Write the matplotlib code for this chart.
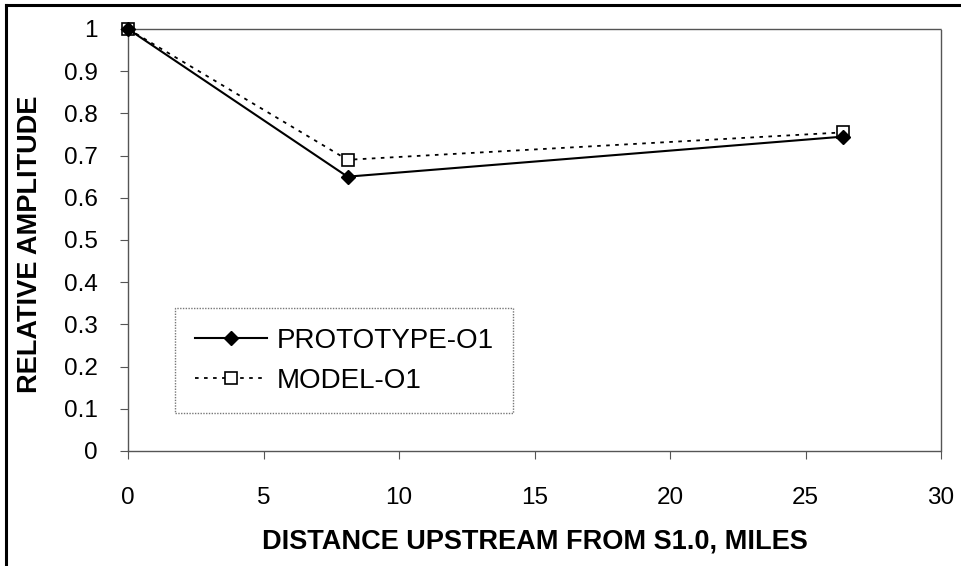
import matplotlib
matplotlib.use('Agg')
import matplotlib.pyplot as plt
from matplotlib.lines import Line2D

plt.rc('font', family=['Liberation Sans', 'DejaVu Sans'])

distance = [0, 8.1, 26.4]
prototype = [1.0, 0.65, 0.745]
model = [1.0, 0.69, 0.755]
xticks = [0, 5, 10, 15, 20, 25, 30]
yticks = [0, 0.1, 0.2, 0.3, 0.4, 0.5, 0.6, 0.7, 0.8, 0.9, 1]
ytick_labels = ['0', '0.1', '0.2', '0.3', '0.4', '0.5', '0.6', '0.7', '0.8', '0.9', '1']

fig = plt.figure(figsize=(9.61, 5.66), dpi=100)
ax = fig.add_axes([0.1332, 0.2032, 0.846, 0.7456])

ax.plot(distance, model, color='black', lw=1.3, ls=(0, (2, 3)),
        marker='s', ms=8.5, mfc='white', mec='black', mew=1.2,
        label='MODEL-O1', zorder=3, clip_on=False)
ax.plot(distance, prototype, color='black', lw=1.5, ls='-',
        marker='D', ms=7, mfc='black', mec='black',
        label='PROTOTYPE-O1', zorder=4, clip_on=False)

ax.set_xlim(0, 30)
ax.set_ylim(0, 1)
ax.set_xticks(xticks)
ax.set_yticks(yticks)
ax.set_yticklabels(ytick_labels)

for s in ax.spines.values():
    s.set_linestyle((0, (1, 1)))
    s.set_color('#555555')
    s.set_linewidth(1.0)

ax.tick_params(direction='out', length=6, width=0.8, color='#555555',
               labelsize=17.5)
ax.tick_params(axis='y', pad=16)
ax.tick_params(axis='x', pad=20)

ax.set_xlabel('DISTANCE UPSTREAM FROM S1.0, MILES', fontsize=19.5,
              fontweight='bold')
ax.set_ylabel('RELATIVE AMPLITUDE', fontsize=19.5, fontweight='bold')
ax.xaxis.set_label_coords(0.5, -0.183)
ax.yaxis.set_label_coords(-0.104, 0.49)

handles, labels = ax.get_legend_handles_labels()
leg = ax.legend(handles[::-1], labels[::-1], loc='lower left',
                bbox_to_anchor=(0.058, 0.09), fontsize=20, frameon=True,
                fancybox=False, handlelength=2.6, borderpad=0.7,
                borderaxespad=0, labelspacing=0.5, handletextpad=0.35)
frame = leg.get_frame()
frame.set_edgecolor('#555555')
frame.set_linestyle((0, (1, 1)))
frame.set_linewidth(1.0)

# outer frame, only the left and top edges show in the scan
fig.add_artist(Line2D([0.0065, 0.0065], [0.0, 0.991], color='black', lw=2.2,
                      transform=fig.transFigure))
fig.add_artist(Line2D([0.0065, 1.0], [0.991, 0.991], color='black', lw=2.2,
                      transform=fig.transFigure))

fig.savefig('out.png', dpi=100)
